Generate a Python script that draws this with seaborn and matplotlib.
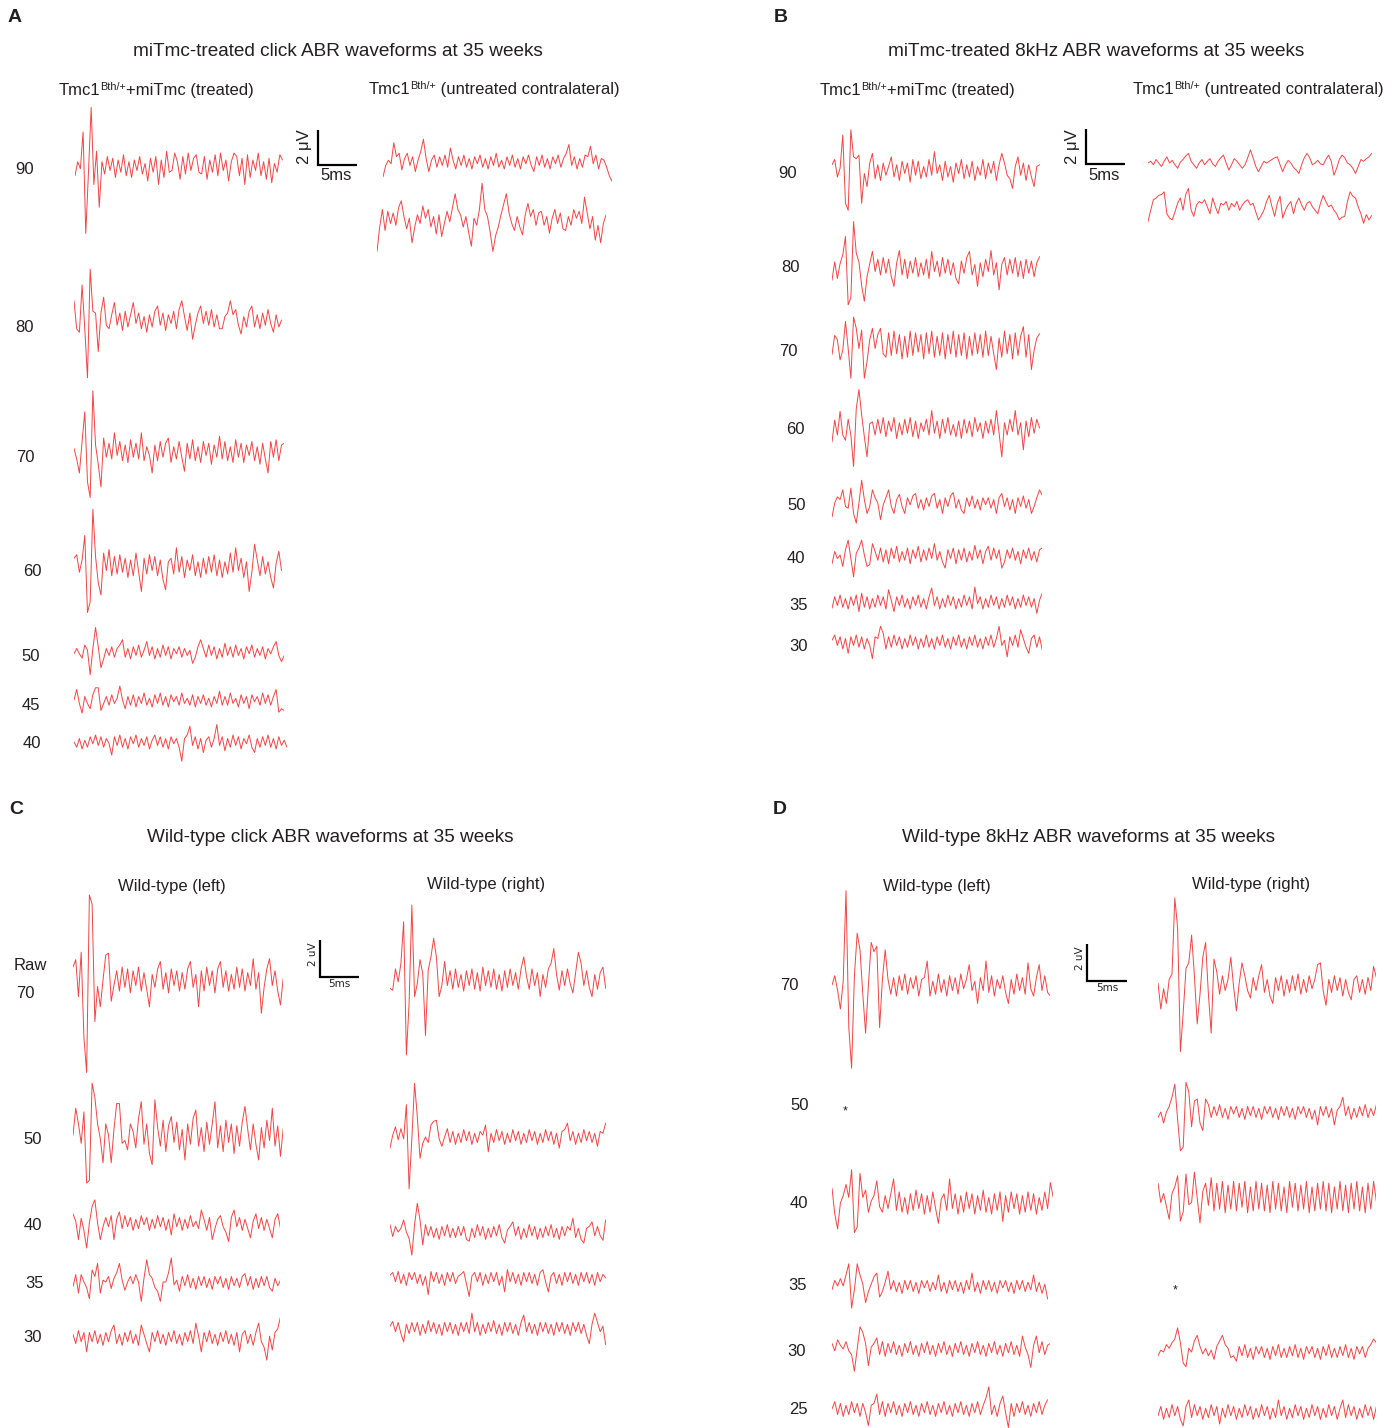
import numpy as np
import matplotlib
matplotlib.use("Agg")
import matplotlib.pyplot as plt
import seaborn as sns

# ---------------- DATA (µV samples, 0.35 ms apart) ----------------
DT_MS = 0.35

# Panel A: miTmc-treated click, treated ear
a_treat_90 = [-0.5, 0.3, -0.1, 2.0, -3.8, -0.3, 3.4, -1.0, 0.9, -2.3,
              0.3, -0.4, 0.6, -0.2, 0.5, -0.6, 0.4, -0.3, 0.7, -0.5,
              0.3, -0.6, 0.4, -0.2, 0.6, -0.4, 0.2, -0.8, 0.5, -0.3,
              0.6, -1.0, 0.4, -0.6, 0.9, -0.3, -0.2, 0.8, 0.3, -0.7,
              0.6, -0.4, 0.8, -0.2, 0.5, 0.7, -0.3, -0.4, 0.6, -0.7,
              0.4, -0.3, 0.7, -0.5, 0.8, -0.2, 0.4, -0.8, 0.3, 0.8,
              0.6, -0.5, 0.5, -1.0, 0.7, -0.6, 0.4, -0.2, 0.8, -0.5,
              0.3, -0.7, 0.5, -0.9, 0.2, -0.3, 0.7, 0.4]
a_treat_80 = [1.1, -0.5, -0.7, 2.0, -0.5, -3.3, 2.9, 0.5, 0.4, -1.8,
              0.4, 1.3, -0.3, -0.5, 0.3, 1.0, -0.3, 0.4, -0.6, 0.5,
              -0.4, 0.3, 1.0, -0.2, 0.4, -0.5, 0.2, -0.7, 0.3, -0.4,
              0.5, 0.8, -0.3, 0.4, -0.6, 0.3, -0.2, 0.5, -0.5, 0.6,
              1.1, 0.2, -0.6, 0.4, -1.1, -0.3, 0.4, 0.8, -0.2, 0.5,
              -0.3, 0.6, -0.4, 0.3, -0.5, -0.5, 0.2, 0.4, 1.1, 0.3,
              0.6, -0.3, -0.8, 0.2, -0.4, 0.5, 0.8, -0.4, 0.3, -0.5,
              0.4, -0.3, 0.6, -0.2, -0.7, 0.3, -0.4, 0.0]
a_treat_70 = [0.2, -0.4, -1.2, 0.6, 2.3, -1.7, -2.6, 3.5, 0.4, -0.7,
              -2.0, 0.8, -0.3, 0.5, -0.4, 1.1, -0.2, 0.6, -0.5, 0.4,
              -0.6, 0.7, -0.3, 0.5, -0.4, 1.1, -0.5, 0.3, -0.2, -1.2,
              0.4, -0.5, 0.6, -0.3, 0.5, 0.8, -0.6, 0.3, -0.4, 0.6,
              -0.3, -1.1, 0.5, -0.4, 0.7, -0.5, 0.3, -0.6, 0.6, -0.2,
              0.5, -0.7, 0.4, -0.3, 0.9, -0.4, 0.6, -0.5, 0.3, -0.6,
              0.7, -0.3, 0.5, -0.6, 0.4, -0.2, 0.6, -0.5, 0.3, -0.7,
              0.5, -0.4, -1.2, 0.6, -0.3, 0.7, -0.5, 0.4, 0.5]
a_treat_60 = [0.5, 0.7, -0.3, 0.4, 1.8, -2.6, -2.0, 3.3, 0.6, -0.9,
              -1.6, 0.8, -0.2, 1.0, -0.5, 0.6, -0.4, 0.7, -0.3, 0.5,
              -0.6, 0.4, -0.5, 0.8, -0.3, -1.4, 0.5, -0.4, 0.7, -0.2,
              0.6, -0.5, 0.4, -0.7, -1.3, 0.3, 0.5, -0.4, 1.1, -0.3,
              0.6, -0.6, 0.4, -0.2, 0.7, -0.5, 0.3, -0.6, 0.5, -0.4,
              0.6, -0.3, 0.7, -0.5, 0.4, -0.6, 0.3, -0.4, 0.8, -0.3,
              1.1, -0.2, 0.5, -0.6, 0.3, -1.4, -0.3, 1.3, 0.4, -0.5,
              0.6, -0.4, 0.3, -0.6, -1.2, 0.2, 0.9, -0.2]
a_treat_50 = [-0.1, 0.2, -0.1, -0.35, 0.4, 0.1, -1.3, 0.2, 1.4, 0.3,
              -0.9, -0.4, 0.2, -0.2, 0.3, -0.3, 0.2, 0.4, 0.7, -0.3,
              0.2, -0.4, 0.3, -0.2, 0.4, -0.3, 0.1, 0.6, -0.2, 0.3,
              -0.4, 0.2, -0.3, 0.4, -0.2, 0.3, -0.4, 0.2, -0.1, 0.3,
              -0.3, 0.2, -0.2, 0.1, -0.65, -0.3, 0.3, 0.7, 0.2, -0.3,
              0.4, -0.2, 0.3, -0.4, 0.2, -0.3, 0.5, -0.2, 0.3, -0.3,
              0.4, -0.2, 0.2, -0.4, 0.3, -0.1, 0.4, -0.3, 0.2, -0.2,
              0.3, -0.4, 0.2, -0.1, 0.3, 0.6, -0.2, -0.55, -0.2]
a_treat_45 = [0.0, 0.6, -0.2, -0.75, 0.2, -0.2, -0.5, 0.3, 0.7, 0.7,
              -0.6, -0.2, 0.2, -0.3, 0.3, -0.2, 0.1, 0.8, 0.0, -0.5,
              0.2, -0.3, 0.3, -0.4, 0.2, -0.2, 0.4, -0.3, 0.1, -0.4,
              0.3, -0.2, 0.4, -0.3, 0.2, -0.4, 0.3, -0.1, 0.2, -0.3,
              0.4, -0.2, 0.1, -0.3, 0.3, -0.4, 0.2, -0.2, 0.3, -0.3,
              0.1, -0.4, 0.2, -0.2, 0.5, -0.3, 0.2, -0.3, 0.4, -0.2,
              0.1, -0.4, 0.3, -0.2, 0.2, -0.5, 0.3, -0.1, 0.2, -0.3,
              0.4, -0.2, 0.3, -0.3, 0.2, 0.6, -0.7, -0.5, -0.6]
a_treat_40 = [0.0, -0.3, 0.2, -0.4, 0.1, -0.3, 0.3, -0.1, 0.4, -0.2,
              0.3, -0.3, 0.2, -0.1, -0.75, 0.3, -0.2, 0.4, -0.3, 0.2,
              -0.4, 0.3, -0.1, 0.4, -0.3, 0.2, -0.2, 0.3, -0.4, 0.1,
              0.4, -0.2, 0.3, -0.3, 0.2, -0.4, 0.3, -0.1, 0.2, -0.3,
              -1.1, 0.2, 0.4, 0.9, -0.2, 0.3, -0.4, 0.2, -0.6, 0.1,
              0.3, -0.3, 0.2, 1.0, -0.2, 0.3, -0.5, 0.2, -0.3, 0.4,
              -0.2, 0.3, -0.4, 0.2, -0.1, 0.4, -0.3, -0.6, 0.2, -0.3,
              0.3, -0.2, 0.4, -0.3, 0.2, -0.4, 0.3, -0.2, 0.1, -0.3]
# Panel A: untreated contralateral ear (90, 80)
a_untr_1 = [-0.85, -0.2, 0.1, -0.1, 1.1, 0.3, 0.5, -0.45, 0.2, 0.5,
            -0.2, 0.3, -0.55, 0.1, 0.6, 1.3, 0.2, -0.55, 0.1, 0.4,
            -0.3, 0.3, -0.2, 0.4, -0.3, 0.8, 0.1, -0.4, 0.3, -0.2,
            0.4, -0.3, 0.2, -0.4, 0.3, -0.1, 0.4, -0.3, 0.2, -0.4,
            0.3, -0.2, 0.5, -0.3, 0.1, -0.4, 0.3, -0.2, 0.4, -0.3,
            0.2, -0.4, 0.3, -0.1, 0.4, -0.2, -0.55, 0.3, -0.2, 0.4,
            -0.3, 0.2, -0.4, 0.3, -0.1, 0.4, -0.3, 0.2, 0.5, 1.0,
            -0.2, 0.3, -0.4, 0.2, -0.3, 0.4, 0.3, 0.9, -0.1, 0.4,
            -0.4, 0.2, 0.1, -0.3, -0.8, -1.1]
a_untr_2 = [-1.8, -0.4, 0.6, -0.6, 0.5, -0.2, 0.4, -0.3, 0.7, 1.1,
            0.2, -0.5, 0.1, -1.3, -0.4, 0.3, -0.2, 0.8, 0.1, 0.6,
            -0.4, 0.2, -0.8, 0.3, -0.95, -0.2, 0.5, -0.1, 0.7, 1.5,
            0.6, 0.3, -0.4, 0.2, -0.7, -1.5, 0.1, -0.3, 0.6, 2.1,
            0.6, 0.2, -0.7, -1.8, -0.9, -0.4, 0.3, 0.9, 1.5, 0.4,
            -0.2, -0.6, 0.2, -0.4, -0.85, 0.3, 0.95, 0.2, 0.6, -0.3,
            0.4, 0.5, -0.3, 0.2, -0.75, 0.1, 0.6, -0.2, 0.4, -0.5,
            -0.6, 0.2, -0.3, 0.6, 0.1, 0.5, -0.2, 1.3, 0.4, -0.5,
            0.2, -1.15, -0.3, -1.3, -0.2, 0.3]

# Panel B: miTmc-treated 8 kHz, treated ear
b_treat_90 = [0.3, 0.6, -0.4, 0.1, 2.0, -1.9, -2.3, 2.3, 0.75, 0.65,
              0.85, -1.9, -0.2, -0.95, 0.4, 0.95, -0.5, 0.3, -0.6, 0.4,
              -0.3, 0.2, 0.75, -0.4, 0.3, -0.6, 0.5, -0.2, 0.4, -0.7,
              0.6, -0.3, 0.5, -0.5, 0.2, -0.4, 0.6, -0.3, 1.05, -0.2,
              0.3, -0.6, 0.5, -0.4, 0.2, -0.7, 0.4, -0.2, 0.6, -0.5,
              0.3, -0.4, 0.5, -0.6, 0.2, -0.3, 0.6, -0.5, 0.4, -0.2,
              0.5, -0.6, 0.3, 0.95, 0.4, -0.3, -0.5, -1.05, 0.2, 0.75,
              -0.3, 0.4, -0.6, 0.3, -0.4, -0.95, 0.2, 0.3]
b_treat_80 = [-0.7, 0.35, -0.6, 0.25, 0.75, 1.8, -2.1, -1.7, 2.65, 0.85,
              0.35, -1.0, -1.9, -0.5, 0.25, 0.95, -0.2, 0.5, -0.4, 0.6,
              -0.3, 0.5, -0.5, -1.05, 0.3, 1.0, -0.4, 0.5, -0.6, 0.4,
              -0.3, 0.6, -0.5, 0.3, -0.4, 0.5, -0.6, 0.95, -0.2, 0.4,
              -0.5, 0.6, -0.3, 0.5, -0.4, 0.3, -0.6, -0.9, 0.4, -0.3,
              0.6, 0.95, -0.4, 0.2, -1.05, 0.3, -0.5, 0.5, -0.2, 1.0,
              -0.4, 0.3, -1.25, 0.2, 0.6, -0.4, 0.5, -0.3, 0.6, -0.5,
              0.4, -0.6, 0.5, -0.3, 0.4, -0.5, 0.3, 0.65]
b_treat_70 = [-0.55, 0.55, 0.3, -0.85, -0.3, 1.35, -0.2, -1.9, 1.6, 0.95,
              -0.2, 0.85, -1.9, -0.95, 0.3, 0.95, -0.2, 0.6, 0.95, -0.5,
              -0.7, 0.7, -0.6, 0.8, -0.5, 0.6, -0.8, 0.5, -0.7, 0.8,
              -0.6, 0.7, -0.4, 0.6, -0.8, 0.7, -0.5, 0.8, -0.7, 0.5,
              -0.6, 0.7, -0.8, 0.6, -0.5, 0.8, -0.7, 0.6, -0.6, 0.7,
              -0.8, 0.5, -0.6, 0.7, -0.5, 0.6, -0.7, 0.8, -0.6, 0.5,
              -0.5, -1.4, 0.4, -0.7, 0.8, -0.5, 0.6, -0.8, 0.7, -0.6,
              0.5, 1.05, -0.7, 0.6, -1.4, -0.3, 0.4, 0.65]
b_treat_60 = [-0.8, 0.45, -0.4, 0.95, -0.4, -0.7, 0.5, -0.4, -2.2, 1.1,
              2.2, 0.75, -0.5, -1.65, 0.25, 0.35, -0.4, 0.5, -0.3, 0.6,
              -0.5, 0.4, -0.2, 0.6, -0.6, 0.3, -0.4, 0.5, -0.3, 0.6,
              -0.5, 0.4, -0.6, 0.3, -0.2, 0.5, -0.4, 1.0, -0.3, 0.4,
              -0.6, 0.5, -0.3, 0.6, -0.4, 0.2, -0.5, 0.4, -0.6, 0.5,
              -0.3, 0.4, -0.5, 0.6, -0.2, 0.3, -0.6, 0.4, -0.3, 0.5,
              -0.4, 1.0, -0.3, -1.65, 0.3, -0.4, 0.5, -0.2, 1.0, -0.4,
              0.3, -1.25, 0.4, -0.5, 0.6, -0.3, 0.5, 0.0]
b_treat_50 = [-0.8, 0.0, 0.35, 0.2, 0.75, -0.2, -0.3, 0.85, -0.6, -1.15,
              0.0, 1.3, 0.2, -0.6, -0.2, 0.75, 0.3, 0.0, -0.95, -0.1,
              0.3, 0.75, -0.2, -0.6, 0.2, 0.5, -0.2, -0.6, 0.3, -0.1,
              0.4, 0.55, -0.3, 0.2, -0.4, 0.3, -0.2, 0.4, 0.55, -0.3,
              0.2, -0.6, 0.3, -0.2, 0.4, 0.6, -0.3, 0.2, -0.4, -0.6,
              0.3, -0.2, 0.4, -0.3, 0.2, -0.4, 0.3, -0.1, 0.3, -0.3,
              0.2, -0.6, 0.3, 0.55, -0.2, 0.3, -0.4, 0.2, -0.6, 0.3,
              -0.2, 0.4, -0.3, 0.2, -0.6, -0.2, 0.3, 0.75, 0.45]
b_treat_40 = [-0.5, 0.2, -0.2, 0.0, -0.65, 0.3, 0.85, -0.2, -1.25, 0.1,
              0.4, 0.85, 0.0, -0.65, -0.55, 0.65, 0.2, -0.3, 0.4, -0.4,
              0.3, -0.5, 0.4, -0.2, 0.5, -0.4, 0.2, -0.3, 0.4, -0.5,
              0.3, -0.2, 0.5, -0.4, 0.3, -0.3, 0.4, -0.2, 0.65, -0.3,
              0.2, -0.4, -0.75, 0.3, -0.2, 0.4, -0.5, 0.3, -0.3, 0.4,
              -0.4, 0.2, -0.3, 0.55, -0.2, 0.3, -0.5, 0.2, 0.5, -0.3,
              0.4, -0.2, 0.3, -0.75, -0.4, 0.3, -0.2, 0.4, -0.3, 0.2,
              -0.5, 0.3, -0.2, 0.4, -0.3, 0.2, -0.4, 0.3, 0.4]
b_treat_35 = [-0.35, 0.3, -0.2, 0.4, -0.3, 0.2, -0.4, 0.3, -0.2, 0.4,
              -0.55, 0.5, -0.3, 0.3, -0.4, 0.2, -0.3, 0.4, -0.2, 0.3,
              -0.4, 0.7, 0.1, -0.55, 0.3, -0.2, 0.4, -0.3, 0.2, -0.4,
              0.3, -0.2, 0.4, -0.3, 0.2, -0.4, 0.3, 0.8, -0.2, 0.3,
              -0.4, 0.2, -0.3, 0.4, -0.2, 0.3, -0.4, 0.2, -0.3, 0.4,
              -0.2, 0.3, -0.4, 0.85, -0.1, 0.3, -0.4, 0.2, -0.3, 0.4,
              -0.2, 0.3, -0.4, 0.2, -0.3, 0.4, -0.2, 0.3, -0.4, 0.2,
              -0.3, 0.4, -0.2, 0.3, -0.3, 0.2, -0.65, 0.1, 0.5]
b_treat_30 = [0.1, 0.4, -0.2, 0.3, -0.4, 0.2, -0.65, 0.3, -0.2, 0.4,
              -0.3, 0.3, -0.4, 0.2, -0.2, -0.95, 0.3, 0.2, 0.9, 0.5,
              -0.4, 0.3, -0.3, 0.4, -0.2, 0.3, -0.4, 0.2, -0.3, 0.4,
              -0.2, 0.3, -0.4, 0.2, -0.3, 0.4, -0.3, 0.2, -0.4, 0.3,
              -0.2, 0.4, -0.3, 0.2, -0.4, 0.3, -0.2, 0.4, -0.3, 0.2,
              -0.4, 0.3, -0.2, 0.4, -0.3, 0.2, -0.4, 0.3, -0.2, 0.4,
              -0.3, 0.2, 0.9, -0.2, 0.1, -0.85, 0.3, -0.2, 0.4, -0.3,
              0.7, 0.2, -0.3, -0.65, 0.2, 0.4, -0.3, 0.3, -0.45]
# Panel B: untreated contralateral ear (90, 80)
b_untr_1 = [0.0, 0.1, -0.1, 0.2, 0.0, -0.2, 0.1, 0.35, 0.0, 0.15,
            -0.1, -0.3, 0.05, 0.2, 0.4, 0.55, 0.1, -0.1, -0.3, 0.0,
            0.2, -0.1, 0.1, 0.25, -0.05, -0.2, 0.1, 0.3, 0.45, 0.0,
            -0.4, -0.1, 0.25, 0.1, -0.1, -0.3, -0.1, 0.3, 0.75, 0.3,
            -0.2, -0.5, -0.2, 0.1, 0.0, 0.1, 0.2, 0.3, 0.35, -0.1,
            -0.5, -0.1, 0.15, 0.0, -0.25, -0.4, -0.6, -0.1, 0.3, 0.55,
            0.3, -0.1, 0.0, 0.15, -0.05, -0.1, 0.2, 0.45, 0.1, -0.7,
            -0.3, 0.2, 0.45, 0.3, 0.0, -0.1, -0.3, -0.6, -0.2, 0.2,
            0.1, 0.25, 0.35, 0.55]
b_untr_2 = [-0.95, -0.3, 0.3, 0.4, 0.55, 0.6, 0.75, -0.5, -0.75, -0.85,
            -0.4, 0.1, 0.4, -0.3, 0.6, 0.95, -0.3, -0.65, 0.0, 0.2,
            0.1, 0.3, -0.1, -0.5, 0.4, -0.1, -0.5, 0.1, 0.0, 0.2,
            -0.3, 0.1, -0.1, 0.2, -0.3, 0.0, 0.2, 0.3, 0.0, 0.1,
            -0.4, -0.85, -0.6, -0.3, 0.2, 0.55, -0.1, -0.65, 0.1, 0.5,
            -0.75, -0.3, 0.0, 0.2, -0.5, 0.1, 0.4, 0.0, -0.3, 0.1,
            0.2, -0.1, -0.3, -0.5, 0.1, 0.55, 0.2, -0.1, 0.0, -0.3,
            -0.5, -0.85, -0.7, -0.65, 0.2, 0.75, 0.5, 0.4, -0.1, -0.5,
            -1.05, -0.55, -0.85, -0.6]

# Panel C: wild-type click, left ear
c_left_70 = [0.7, 1.1, -0.9, 1.5, -3.1, -5.0, 4.6, 4.1, -2.25, -0.35,
             -1.45, 0.0, 1.35, 1.45, -1.15, -0.3, 0.5, -0.6, 0.7, -0.4,
             0.6, -0.7, 0.5, -0.3, 0.7, -0.6, 0.4, -0.5, -1.45, 0.3,
             -0.4, 0.6, 1.0, -0.5, 0.4, -0.7, 0.6, -0.3, 0.5, -0.6,
             0.4, -0.5, 0.6, 1.0, -0.4, 0.3, -1.45, 0.5, -0.6, 0.7,
             -0.3, 0.5, -0.7, 0.6, 1.0, -0.4, 0.5, -0.6, 0.3, -0.5,
             0.7, -0.4, 0.6, -0.6, 0.4, -0.3, 1.15, -0.5, 0.4, -1.8,
             -0.4, 0.6, 1.15, -0.3, 0.5, -0.6, -1.35, 0.1]
c_left_50 = [0.0, 1.45, 0.6, -0.45, 1.25, -2.6, -2.45, 2.8, 2.05, 0.6,
             -0.2, -1.5, 0.6, 0.0, -1.5, 0.3, 1.7, 1.7, -0.45, -0.3,
             -0.8, 0.6, 0.2, -0.7, 0.9, 1.8, -0.5, 0.6, -1.0, -1.6,
             1.9, 0.4, -0.6, 0.8, -0.9, 0.5, 1.0, -0.4, 0.7, -0.8,
             0.3, -1.35, 0.6, -0.5, 0.9, 1.35, -0.6, 0.4, -0.9, 0.7,
             -0.5, 0.6, 1.8, -0.7, 0.5, -0.9, 0.8, -0.4, 0.6, -1.0,
             0.5, -0.6, 0.7, 1.55, 0.3, -0.8, 0.6, -0.5, -1.35, 0.4,
             -0.7, 0.8, -0.3, 1.45, -0.6, 0.5, -1.15, 0.35]
c_left_40 = [0.5, 0.1, -0.9, 0.25, -0.4, -1.35, 0.0, 0.9, 1.25, 0.0,
             -0.9, -0.2, 0.3, -0.2, 0.4, -0.9, 0.2, 0.6, -0.3, 0.4,
             -0.2, 0.3, -0.4, 0.2, -0.3, 0.4, -0.1, 0.3, -0.4, 0.2,
             -0.3, 0.4, -0.2, 0.3, -0.4, 0.2, -0.65, 0.5, -0.2, 0.3,
             -0.4, 0.2, -0.3, 0.4, -0.2, 0.1, -0.3, 0.7, 0.2, -0.4,
             0.3, -0.9, -0.3, 0.2, 0.4, -0.2, -0.5, -1.0, 0.3, 0.7,
             -0.2, 0.3, -0.4, 0.2, -0.3, -0.8, 0.1, 0.5, -0.3, 0.3,
             -0.4, 0.2, -0.3, -0.8, 0.2, 0.5, -0.3]
c_left_35 = [-0.25, 0.4, -0.6, 0.4, 0.0, -0.3, -0.9, 0.65, 0.3, 1.0,
             -0.6, 0.1, 0.0, 0.3, -0.35, 0.2, 0.5, 1.0, 0.1, -0.45,
             0.0, 0.3, -0.1, 0.4, 0.0, -1.05, 0.2, 1.2, 0.4, 0.2,
             -0.3, -0.5, -1.05, 0.0, 0.0, 0.5, 1.3, -0.15, 0.1, -0.5,
             0.3, -0.2, 0.4, -0.3, 0.2, -0.4, 0.3, -0.2, 0.3, -0.3,
             0.2, -0.4, 0.3, -0.1, 0.3, -0.3, 0.2, -0.4, 0.3, -0.2,
             0.2, -0.3, 0.3, 0.45, -0.2, 0.3, -0.4, 0.2, -0.3, 0.3,
             -0.2, 0.3, -0.3, -0.5, 0.2, -0.2, 0.1]
c_left_30 = [0.2, -0.3, 0.4, -0.2, 0.3, -0.75, 0.3, -0.2, 0.4, -0.3,
             0.2, -0.4, 0.3, -0.2, 0.4, 0.7, -0.3, 0.2, -0.4, 0.3,
             -0.2, 0.4, -0.3, 0.2, -0.4, 0.7, 0.2, -0.3, -0.75, 0.3,
             -0.2, 0.4, -0.3, 0.2, -0.4, 0.3, -0.2, 0.4, -0.3, 0.2,
             -0.4, 0.3, -0.2, 0.4, -0.3, 0.8, 0.1, -0.75, 0.3, -0.2,
             0.4, -0.3, 0.2, -0.4, 0.3, -0.2, 0.4, -0.3, 0.2, -0.4,
             0.3, -0.75, 0.2, 0.4, -0.3, 0.2, -0.4, 0.3, 0.8, -0.2,
             -0.5, -1.2, 0.1, -0.65, 0.3, 0.5, 1.15]
# Panel C: wild-type click, right ear
c_right_70 = [-0.45, -0.55, 0.6, -0.1, 0.9, 3.15, -4.05, -1.25, 4.05, -0.9,
              -0.2, 1.1, 0.35, -3.0, 0.55, 1.25, 2.25, 1.25, -0.9, -0.3,
              1.0, -0.3, 0.5, -0.5, 0.6, -0.4, 0.3, -0.6, 0.5, -0.3,
              0.6, -0.5, 0.4, -0.6, 0.7, -0.3, 0.5, -0.4, 0.6, -0.5,
              0.3, -0.6, 0.5, -0.4, 0.6, -0.3, 0.4, -0.5, 0.6, 1.25,
              0.2, -0.5, 0.6, -0.3, 0.4, -0.9, 0.3, -0.4, 0.6, 0.9,
              1.7, 0.3, -0.55, 0.5, -0.3, 0.6, -0.2, -0.7, 0.4, 1.5,
              0.9, -0.3, 0.5, -0.4, -0.9, 0.3, -0.5, 0.4, 0.7, -0.45]
c_right_50 = [-0.6, 0.1, 0.55, -0.15, 0.45, -0.1, 1.75, -2.8, -0.1, 2.9,
              1.1, -1.15, -0.35, 0.0, -0.3, 0.65, 0.85, 0.9, -0.1, -0.5,
              0.0, 0.45, -0.3, 0.3, -0.4, 0.2, -0.3, 0.4, -0.2, 0.3,
              -0.4, 0.2, -0.3, 0.3, 0.1, 0.65, -0.8, 0.2, -0.3, 0.4,
              -0.2, 0.3, -0.4, 0.2, -0.3, 0.4, -0.2, 0.3, -0.4, 0.2,
              -0.3, 0.4, -0.2, 0.3, -0.4, 0.2, -0.3, 0.4, -0.2, 0.3,
              -0.4, 0.2, -0.6, 0.3, 0.4, 0.75, -0.2, 0.3, -0.4, 0.2,
              -0.3, 0.4, -0.2, 0.3, -0.3, 0.2, -0.5, 0.3, 0.2, 0.75]
c_right_40 = [0.4, -0.25, 0.3, 0.0, 0.2, 0.65, 0.0, -0.35, -1.25, 0.4,
              1.55, 0.65, -0.7, 0.4, -0.2, 0.3, -0.3, 0.2, -0.4, 0.3,
              -0.2, 0.4, -0.3, 0.2, -0.3, 0.3, -0.2, 0.3, -0.4, -0.5,
              0.2, -0.3, 0.4, -0.2, 0.3, -0.4, 0.2, -0.3, 0.3, -0.2,
              0.4, -0.3, -0.6, 0.1, 0.3, 0.55, -0.2, 0.3, -0.4, 0.2,
              -0.3, 0.4, -0.2, 0.3, -0.4, 0.2, -0.3, 0.3, -0.2, 0.4,
              -0.3, 0.2, -0.4, 0.3, -0.2, 0.3, 0.1, 0.75, -0.3, 0.2,
              -0.4, -0.6, 0.2, 0.3, 0.55, -0.2, 0.3, -0.2, -0.45, 0.65]
c_right_35 = [0.15, 0.3, -0.2, 0.35, -0.3, 0.2, -0.4, 0.3, -0.1, 0.3,
              -0.3, 0.2, -0.4, 0.1, -0.9, 0.35, -0.2, 0.3, -0.3, 0.2,
              -0.4, 0.3, -0.2, 0.3, -0.3, 0.1, 0.2, 0.35, -0.3, -1.0,
              0.1, 0.3, -0.2, 0.3, -0.4, 0.2, -0.3, 0.3, -0.2, 0.3,
              -0.4, 0.1, -0.75, 0.45, -0.2, 0.3, -0.3, 0.2, -0.4, 0.3,
              -0.2, 0.3, -0.3, 0.2, -0.4, 0.3, 0.45, -0.2, -0.75, 0.1,
              0.3, -0.3, 0.2, -0.4, 0.3, -0.2, 0.3, -0.3, 0.2, -0.4,
              0.3, -0.2, 0.3, -0.3, 0.2, -0.4, 0.3, -0.2, 0.2, 0.0]
c_right_30 = [0.1, 0.35, -0.2, 0.3, -0.3, -0.75, 0.2, -0.3, 0.3, -0.2,
              0.3, -0.4, 0.2, -0.3, 0.4, -0.2, 0.3, -0.3, 0.2, -0.4,
              0.3, -0.2, 0.3, -0.3, 0.2, -0.4, 0.3, -0.2, 0.3, -0.3,
              0.8, -0.2, 0.3, -0.4, 0.2, -0.3, 0.3, -0.2, 0.4, -0.3,
              0.2, -0.4, 0.3, -0.2, 0.3, -0.3, 0.2, -0.4, 0.3, 0.7,
              -0.2, 0.3, -0.3, 0.2, -0.4, 0.3, -0.2, 0.3, -0.3, 0.2,
              -0.4, 0.3, -0.2, 0.3, -0.3, 0.2, -0.4, 0.3, -0.2, 0.3,
              -0.3, 0.2, -0.4, -0.85, 0.2, 0.8, 0.3, -0.2, 0.1, -0.9]

# Panel D: wild-type 8 kHz, left ear (50 dB not recorded: *)
d_left_70 = [0.0, 0.5, -0.3, -1.3, 0.2, 5.1, -2.3, -4.5, 0.5, 2.8,
             1.9, -0.5, -2.6, 0.0, 2.3, 1.8, 2.1, -2.3, 0.3, 1.9,
             0.3, -0.5, 0.4, -0.6, 0.5, -0.3, 0.6, -0.5, 0.4, -0.2,
             0.5, -0.6, 0.3, 0.4, 1.3, -0.6, 0.2, -0.5, 0.6, -0.4,
             0.3, -0.6, 0.5, -0.3, 0.4, -0.5, 0.6, -0.2, 0.3, 1.1,
             -0.3, 0.2, -1.0, 0.4, -0.3, 1.3, -0.4, 0.5, -0.6, 0.3,
             -0.2, 0.5, -0.4, -1.0, 0.3, -0.5, 0.6, -0.3, 0.4, -0.5,
             1.2, -0.2, -0.6, 0.4, 1.1, -0.3, 0.5, -0.4, -0.6]
d_left_40 = [0.8, -0.6, -1.4, 0.0, 0.4, 1.0, 0.3, 1.8, -1.6, -1.3,
             1.6, 0.3, 0.7, -0.5, 0.1, 0.4, 1.2, -0.2, -0.5, 0.4,
             -0.3, 0.5, 1.3, -0.4, 0.6, -0.5, 0.3, -0.6, 0.5, -0.4,
             0.7, -0.3, 0.5, -0.6, 0.4, -0.5, 0.6, -0.3, -1.1, 0.2,
             0.5, -0.4, 1.3, -0.3, 0.5, -0.6, 0.4, -0.5, 0.6, -0.3,
             0.5, -0.6, 0.4, -0.4, 0.7, -0.5, 0.3, -0.6, 0.5, -0.4,
             0.6, -1.0, 0.4, -0.5, 0.6, -0.3, 0.5, -0.6, 0.4, -0.5,
             0.6, -0.4, 0.5, -0.6, 0.3, -0.4, 0.6, -0.3, 1.1, 0.3]
d_left_35 = [-0.2, 0.3, 0.0, 0.4, 0.0, 0.6, 1.2, -1.2, -0.2, 1.2,
             0.6, 0.1, -0.9, -0.3, 0.1, 0.5, 0.7, -0.6, -0.3, 0.2,
             0.8, -0.2, 0.3, -0.3, 0.2, -0.4, 0.3, -0.2, 0.3, -0.3,
             0.2, -0.4, 0.3, -0.1, 0.3, -0.3, 0.2, -0.2, 0.6, -0.3,
             0.2, -0.4, 0.3, -0.2, 0.3, -0.3, 0.2, -0.4, 0.3, -0.2,
             0.7, -0.3, 0.2, -0.4, 0.3, -0.2, 0.3, -0.3, 0.2, -0.4,
             0.3, -0.1, 0.3, -0.3, 0.2, -0.4, 0.3, -0.2, 0.3, -0.3,
             0.2, -0.2, 0.6, -0.3, 0.2, -0.4, 0.1, -0.7]
d_left_30 = [0.3, -0.1, 0.5, 0.2, 0.0, 0.4, -0.1, -0.3, -1.2, 0.0,
             1.2, 0.9, 0.3, -0.9, 0.1, 0.3, 0.6, -0.3, 0.4, -0.4,
             0.3, -0.2, 0.4, -0.3, 0.2, -0.4, 0.3, -0.2, 0.4, -0.3,
             0.2, -0.4, 0.3, -0.2, 0.4, -0.3, 0.2, -0.4, 0.3, -0.2,
             0.4, -0.3, 0.2, -0.4, 0.3, -0.2, 0.4, -0.3, 0.2, -0.4,
             0.3, -0.2, 0.4, -0.3, 0.2, -0.4, 0.3, -0.2, 0.4, -0.3,
             0.2, -0.4, 0.3, -0.2, 0.4, -0.3, 0.2, -0.4, 0.7, 0.1,
             -0.3, -1.0, 0.2, 0.7, -0.2, 0.4, -0.3, 0.2, 0.3]
d_left_25 = [0.0, 0.4, -0.3, 0.3, -0.4, 0.2, -0.3, 0.4, -0.2, 0.3,
             -0.4, 0.3, -0.2, -0.9, 0.2, 0.3, 0.8, -0.3, 0.4, -0.4,
             0.3, -0.2, 0.4, -0.3, 0.2, -0.4, 0.3, -0.2, 0.4, -0.3,
             0.2, -0.4, 0.3, -0.2, 0.4, -0.3, 0.2, -0.4, 0.3, -0.2,
             0.4, -0.3, 0.2, -0.4, 0.3, -0.2, 0.4, -0.3, 0.2, -0.4,
             0.3, -0.2, 0.4, -0.3, 0.2, 0.6, 1.2, -0.3, 0.2, -0.4,
             0.3, 0.7, -0.2, -1.0, 0.3, -0.4, 0.3, -0.2, 0.4, -0.3,
             0.2, -0.4, 0.3, -0.2, 0.4, -0.3, 0.2, 0.5]
# Panel D: wild-type 8 kHz, right ear (35 dB not recorded: *)
d_right_70 = [0.1, -1.3, -0.2, -1.0, 0.3, 0.6, 4.7, 3.1, -3.6, -1.5,
              0.9, 1.2, 2.7, 0.5, -2.1, -0.5, 1.5, 2.3, -0.5, -2.6,
              1.4, 0.7, -0.5, 0.5, -0.3, 0.3, 1.5, -0.1, -1.4, 0.1,
              1.2, 0.5, -0.3, -0.7, 0.4, -0.3, 0.5, 1.1, -0.4, 0.3,
              -0.6, -1.0, 0.4, -0.3, 0.5, -0.6, 0.3, -0.4, 0.5, -0.3,
              0.6, -0.5, 0.3, -0.4, 0.5, -0.2, 0.3, 1.1, 1.2, -0.3,
              -1.1, 0.3, -0.4, 0.5, -0.3, 0.4, -0.6, 0.3, -0.4, -0.8,
              0.3, 0.5, -0.4, 0.3, -0.5, 0.4, -0.3, 1.0, 0.4]
d_right_50 = [-0.3, 0.0, -0.6, 0.0, 0.3, 0.8, 1.5, -0.4, -2.1, -1.9,
              1.6, 1.1, -0.8, 0.6, 0.7, -0.6, -1.0, 0.7, 0.4, -0.3,
              0.3, -0.2, 0.4, -0.3, 0.2, -0.4, 0.3, -0.1, 0.3, -0.3,
              0.2, -0.4, 0.3, -0.2, 0.3, -0.3, 0.2, -0.4, 0.3, -0.1,
              0.3, -0.3, 0.2, -0.4, 0.3, -0.2, 0.3, -0.3, 0.2, -0.4,
              0.3, -0.1, 0.3, -0.3, 0.2, -0.4, 0.1, -0.7, 0.3, -0.2,
              0.3, -0.3, 0.2, -0.7, 0.1, 0.3, 0.8, -0.2, 0.3, -0.4,
              0.2, -0.3, 0.3, -0.2, 0.4, -0.3, 0.2, -0.2, 0.4]
d_right_40 = [0.8, -0.25, 0.25, -0.45, -1.15, 0.25, 0.6, 1.2, -1.25, -0.75,
              1.3, -0.35, -0.25, 1.4, 0.0, -1.35, 0.35, 0.8, -0.4, 1.1,
              -0.7, 0.8, -0.6, 0.9, -0.8, 0.7, -0.6, 0.9, -0.7, 0.8,
              -0.5, 0.9, -0.8, 0.6, -0.7, 0.9, -0.6, 0.8, -0.7, 0.7,
              -0.8, 0.9, -0.6, 0.8, -0.7, 0.6, -0.8, 0.9, -0.5, 0.8,
              -0.7, 0.7, -0.6, 0.9, -0.8, 0.6, -0.7, 0.8, -0.6, 0.9,
              -0.7, 0.8, -0.8, 0.6, -0.6, 0.9, -0.7, 0.7, -0.8, 0.8,
              -0.6, 0.9, -0.7, 0.6, -0.8, 0.8, -0.6, 0.9, -0.2]
d_right_30 = [-0.2, 0.1, 0.0, 0.4, 0.2, 0.5, 0.7, 1.3, 0.5, -0.6,
              -0.8, 0.2, 0.0, 0.6, 0.9, 0.3, -0.1, 0.2, -0.2, 0.1,
              -0.4, 0.3, 0.6, 0.9, 0.4, 0.2, -0.3, -0.2, -0.5, 0.3,
              -0.2, 0.4, -0.3, 0.2, -0.4, 0.3, -0.1, 0.3, -0.3, 0.2,
              -0.4, 0.3, -0.2, 0.4, -0.3, 0.2, -0.3, 0.3, -0.2, 0.4,
              -0.3, 0.2, -0.4, 0.3, -0.1, 0.3, -0.3, 0.2, -0.4, 0.3,
              -0.2, 0.4, -0.3, 0.2, -0.3, 0.3, -0.2, 0.4, -0.3, 0.2,
              -0.4, 0.3, -0.1, 0.3, -0.3, 0.2, 0.4, 0.7, 0.5]
d_right_25 = [-0.2, 0.3, -0.4, 0.2, -0.3, 0.4, -0.2, 0.3, -0.4, -0.75,
              0.3, 0.65, -0.3, 0.4, -0.2, 0.3, -0.4, 0.2, -0.3, 0.4,
              -0.2, 0.3, -0.65, 0.2, -0.3, 0.4, -0.2, 0.3, -0.4, 0.2,
              -0.3, 0.4, -0.2, 0.3, -0.4, 0.2, -0.3, 0.4, -0.2, 0.3,
              -0.4, 0.2, -0.3, 0.65, -0.2, 0.3, -0.4, 0.2, -0.3, 0.4,
              -0.2, 0.3, -0.4, 0.2, -0.3, 0.4, -0.2, 0.3, -0.4, 0.2,
              -0.3, 0.4, -0.2, 0.3, -0.4, 0.2, 0.65, -0.3, 0.4, -0.2,
              0.3, -0.4, 0.2, -0.3, 0.4, -0.2, 0.3, -0.4, 0.3]

# Text content
panel_letters = ["A", "B", "C", "D"]
panel_titles = ["miTmc-treated click ABR waveforms at 35 weeks",
                "miTmc-treated 8kHz ABR waveforms at 35 weeks",
                "Wild-type click ABR waveforms at 35 weeks",
                "Wild-type 8kHz ABR waveforms at 35 weeks"]
a_levels = ["90", "80", "70", "60", "50", "45", "40"]
b_levels = ["90", "80", "70", "60", "50", "40", "35", "30"]
c_levels = ["70", "50", "40", "35", "30"]
d_levels = ["70", "50", "40", "35", "30", "25"]

# ---------------- LAYOUT ----------------
W, H, DPI = 1400, 1428, 100
# pixels per ms, pixels per µV for each panel (from its scale bar)
SCALE = {"A": (7.7, 17.5), "B": (7.7, 17.5), "C": (7.8, 18.5), "D": (8.0, 18.5)}
TRACE_COLOR = "#f24446"
TEXT_COLOR = "#231f20"

TRACES = [
    (a_treat_90, "A", 75, 167), (a_treat_80, "A", 74, 320), (a_treat_70, "A", 74, 452),
    (a_treat_60, "A", 74, 567), (a_treat_50, "A", 74, 652), (a_treat_45, "A", 74, 700),
    (a_treat_40, "A", 74, 742),
    (a_untr_1, "A", 383, 162), (a_untr_2, "A", 377, 220),
    (b_treat_90, "B", 832, 170), (b_treat_80, "B", 832, 268), (b_treat_70, "B", 832, 345),
    (b_treat_60, "B", 832, 428), (b_treat_50, "B", 832, 503), (b_treat_40, "B", 832, 555),
    (b_treat_35, "B", 832, 602), (b_treat_30, "B", 832, 642),
    (b_untr_1, "B", 1148, 163), (b_untr_2, "B", 1148, 205),
    (c_left_70, "C", 73, 980), (c_left_50, "C", 73, 1135), (c_left_40, "C", 73, 1223),
    (c_left_35, "C", 73, 1282), (c_left_30, "C", 73, 1338),
    (c_right_70, "C", 390, 980), (c_right_50, "C", 390, 1137), (c_right_40, "C", 390, 1232),
    (c_right_35, "C", 390, 1278), (c_right_30, "C", 390, 1328),
    (d_left_70, "D", 832, 985), (d_left_40, "D", 832, 1203), (d_left_35, "D", 832, 1286),
    (d_left_30, "D", 832, 1349), (d_left_25, "D", 832, 1409),
    (d_right_70, "D", 1158, 985), (d_right_50, "D", 1158, 1112), (d_right_40, "D", 1158, 1198),
    (d_right_30, "D", 1158, 1352), (d_right_25, "D", 1158, 1412),
]

sns.set_theme(style="white")
plt.rcParams["font.family"] = ["Liberation Sans", "DejaVu Sans"]
plt.rcParams["mathtext.default"] = "regular"

fig = plt.figure(figsize=(W / DPI, H / DPI), dpi=DPI)
fig.patch.set_facecolor("white")


def fx(x):
    return x / W


def fy(y):
    return 1 - y / H


def px_axes(x0, y_top, w, h, xlim, ylim):
    ax = fig.add_axes([fx(x0), fy(y_top + h), w / W, h / H])
    ax.set_xlim(*xlim)
    ax.set_ylim(*ylim)
    ax.axis("off")
    ax.patch.set_alpha(0)
    return ax


HALF = 110
for vals, panel, x0, yb in TRACES:
    pxms, pxuv = SCALE[panel]
    t = np.arange(len(vals)) * DT_MS
    width = t[-1] * pxms
    ax = px_axes(x0, yb - HALF, width, 2 * HALF,
                 (0, t[-1]), (-HALF / pxuv, HALF / pxuv))
    sns.lineplot(x=t, y=np.asarray(vals, float), ax=ax, color=TRACE_COLOR,
                 lw=0.7, estimator=None, sort=False, legend=False)

# Scale bars: 2 µV x 5 ms, corner (pixel) positions
BARS = [("A", 318, 165), ("B", 1086, 164), ("C", 320, 977), ("D", 1087, 981)]
for panel, cx, cy in BARS:
    pxms, pxuv = SCALE[panel]
    ax = px_axes(cx - 10, cy - 50, 70, 60,
                 (-10 / pxms, 60 / pxms), (-10 / pxuv, 50 / pxuv))
    ax.plot([0, 0, 5], [2, 0, 0], color="black", lw=1.6, solid_joinstyle="miter",
            solid_capstyle="butt")

def txt(x, y, s, size=12, **kw):
    kw.setdefault("ha", "center")
    kw.setdefault("va", "center")
    kw.setdefault("color", TEXT_COLOR)
    return fig.text(fx(x), fy(y), s, fontsize=size, **kw)

txt(305, 147, "2 μV", 12, rotation=90)
txt(336, 176, "5ms", 12)
txt(1073, 147, "2 μV", 12, rotation=90)
txt(1104, 176, "5ms", 12)
txt(313, 954, "2 uV", 7.5, rotation=90, family=["DejaVu Sans"])
txt(339, 984, "5ms", 7.5, family=["DejaVu Sans"])
txt(1080, 958, "2 uV", 7.5, rotation=90, family=["DejaVu Sans"])
txt(1107, 988, "5ms", 7.5, family=["DejaVu Sans"])

# panel letters and titles
for (lx, ly), letter in zip([(15, 18), (781, 18), (16, 810), (780, 810)], panel_letters):
    txt(lx, ly, letter, 14, fontweight="bold")
for (tx, ty), title in zip([(338, 51), (1096, 51), (330, 838), (1088, 838)], panel_titles):
    txt(tx, ty, title, 13.7)

# subtitles with superscript
renderer = fig.canvas.get_renderer()

def sup_label(cx, cy, parts):
    """parts: list of (text, size, raise_px); centered horizontally at cx."""
    objs = []
    total = 0
    for s, size, rise in parts:
        t = fig.text(0, 0, s, fontsize=size, color=TEXT_COLOR, ha="left", va="baseline")
        wpx = t.get_window_extent(renderer).width
        objs.append((t, wpx, rise))
        total += wpx
    x = cx - total / 2
    base = cy + 6
    for t, wpx, rise in objs:
        t.set_position((fx(x), fy(base - rise)))
        x += wpx

sup_label(156, 89, [("Tmc1", 12, 0), ("Bth/+", 7.8, 5), ("+miTmc (treated)", 12, 0)])
sup_label(494, 88, [("Tmc1", 12, 0), ("Bth/+", 7.8, 5), (" (untreated contralateral)", 12, 0)])
sup_label(917, 89, [("Tmc1", 12, 0), ("Bth/+", 7.8, 5), ("+miTmc (treated)", 12, 0)])
sup_label(1258, 88, [("Tmc1", 12, 0), ("Bth/+", 7.8, 5), (" (untreated contralateral)", 12, 0)])

txt(172, 886, "Wild-type (left)", 12)
txt(486, 885, "Wild-type (right)", 12)
txt(937, 886, "Wild-type (left)", 12)
txt(1251, 885, "Wild-type (right)", 12)

# level labels
for lab, (x, y) in zip(a_levels, [(25, 169), (25, 327), (25, 457), (32, 572),
                                   (31, 657), (31, 706), (32, 744)]):
    txt(x, y, lab, 12)
for lab, (x, y) in zip(b_levels, [(788, 173), (790, 268), (788, 351), (795, 429),
                                   (797, 505), (796, 559), (799, 605), (799, 647)]):
    txt(x, y, lab, 12)
txt(30, 966, "Raw", 12)
for lab, (x, y) in zip(c_levels, [(25, 994), (33, 1140), (33, 1226), (35, 1284), (33, 1338)]):
    txt(x, y, lab, 12)
for lab, (x, y) in zip(d_levels, [(789, 985), (800, 1106), (799, 1203), (798, 1286),
                                   (797, 1351), (798, 1409)]):
    txt(x, y, lab, 12)

# missing recordings
txt(845, 1111, "*", 9)
txt(1175, 1290, "*", 9)

fig.savefig("out.png", dpi=DPI, facecolor="white")
